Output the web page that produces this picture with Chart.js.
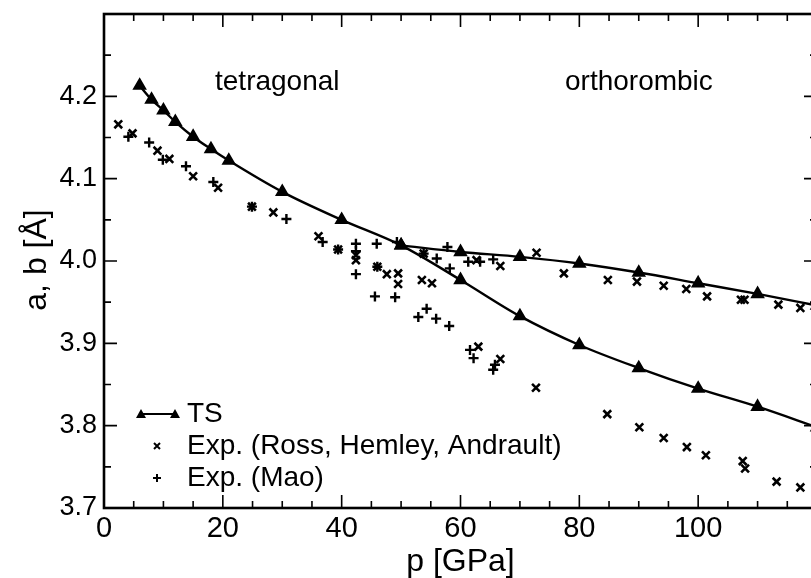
<!DOCTYPE html>
<html>
<head>
<meta charset="utf-8">
<script src="https://cdn.jsdelivr.net/npm/chart.js@4.4.1/dist/chart.umd.min.js"></script>
<style>
  html, body { margin: 0; padding: 0; background: #fff; overflow: hidden; }
  #wrap { width: 811px; height: 578px; overflow: hidden; }
  canvas { display: block; }
</style>
</head>
<body>
<div id="wrap"><canvas id="chart" width="830" height="578"></canvas></div>
<script>
// TS calculation: a lattice constant (tetragonal, then lower orthorhombic branch)
const tsP = [6, 8, 10, 12, 15, 18, 21, 30, 40, 50, 60, 70, 80, 90, 100, 110, 120];
const tsA = [4.213, 4.196, 4.183, 4.169, 4.151, 4.136, 4.122, 4.084, 4.050, 4.019,
  3.977, 3.933, 3.898, 3.870, 3.845, 3.823, 3.798];
// TS calculation: b branch of the orthorhombic phase
const tsBP = [50, 60, 70, 80, 90, 100, 110, 120];
const tsB = [4.019, 4.011, 4.005, 3.997, 3.986, 3.973, 3.960, 3.946];

// Exp. (Ross, Hemley, Andrault)
const rossP = [2.4, 4.8, 9.0, 11.0, 15.0, 19.2, 24.9, 28.5, 36.1, 39.4, 42.4, 42.4,
  46.0, 47.6, 49.5, 49.5, 53.5, 55.2, 53.8, 62.7, 66.7, 63.0, 66.7, 72.7, 72.8, 77.4,
  84.8, 89.7, 94.2, 98.0, 101.5, 107.2, 107.8, 113.5, 117.2,
  84.7, 90.1, 94.2, 98.1, 101.3, 107.5, 107.9, 113.2, 117.2];
const rossV = [4.166, 4.155, 4.134, 4.124, 4.103, 4.089, 4.066, 4.059, 4.030, 4.014, 4.007, 4.001,
  3.993, 3.984, 3.985, 3.972, 3.977, 3.973, 4.009, 4.001, 3.994, 3.896, 3.881, 3.846, 4.010, 3.985,
  3.977, 3.975, 3.970, 3.966, 3.957, 3.953, 3.953, 3.947, 3.943,
  3.814, 3.798, 3.785, 3.774, 3.764, 3.757, 3.748, 3.732, 3.725];

// Exp. (Mao)
const maoP = [4.1, 7.6, 9.9, 13.8, 18.4, 24.9, 30.7, 36.8, 39.4, 42.4, 42.4, 42.4,
  45.9, 46.0, 45.6, 49.0, 49.3, 53.8, 56.0, 57.8, 58.2, 61.3, 63.3, 65.5,
  52.9, 54.3, 55.9, 58.1, 61.6, 62.2, 65.5, 65.8];
const maoV = [4.151, 4.144, 4.123, 4.115, 4.096, 4.066, 4.051, 4.023, 4.014, 4.021, 4.012, 3.984,
  4.021, 3.993, 3.957, 3.956, 4.023, 4.009, 4.003, 4.017, 3.991, 3.999, 3.999, 4.002,
  3.932, 3.942, 3.930, 3.921, 3.892, 3.882, 3.868, 3.874];

const xMajor = [0, 20, 40, 60, 80, 100, 120];
const yMajor = [3.7, 3.8, 3.9, 4.0, 4.1, 4.2, 4.3];

const toPts = (xs, ys) => xs.map((x, i) => ({ x: x, y: ys[i] }));
const FONT = "'Liberation Sans', Arial, sans-serif";

// frame, inward ticks, labels and legend
const decorPlugin = {
  id: "decor",
  afterDraw(chart) {
    const ctx = chart.ctx;
    const a = chart.chartArea;
    const xs = chart.scales.x;
    const ys = chart.scales.y;
    ctx.save();
    ctx.strokeStyle = "#000";
    ctx.lineWidth = 1.6;
    for (let p = 0; p <= 120; p += 5) {
      const px = xs.getPixelForValue(p);
      const len = p % 20 === 0 ? 13 : 7;
      ctx.beginPath();
      ctx.moveTo(px, a.bottom); ctx.lineTo(px, a.bottom - len);
      ctx.moveTo(px, a.top); ctx.lineTo(px, a.top + len);
      ctx.stroke();
    }
    for (let i = 0; i <= 12; i++) {
      const v = 3.7 + i * 0.05;
      const py = ys.getPixelForValue(v);
      const len = i % 2 === 0 ? 13 : 7;
      ctx.beginPath();
      ctx.moveTo(a.left, py); ctx.lineTo(a.left + len, py);
      ctx.moveTo(a.right, py); ctx.lineTo(a.right - len, py);
      ctx.stroke();
    }
    ctx.lineWidth = 2.6;
    ctx.strokeRect(a.left, a.top, a.right - a.left, a.bottom - a.top);

    ctx.fillStyle = "#000";
    ctx.font = "28px " + FONT;
    ctx.textAlign = "left";
    ctx.textBaseline = "alphabetic";
    ctx.fillText("tetragonal", 215, 90);
    ctx.fillText("orthorombic", 565, 90);

    // axis titles
    ctx.font = "32px " + FONT;
    ctx.textAlign = "center";
    ctx.fillText("p [GPa]", (a.left + a.right) / 2, 571);
    ctx.save();
    ctx.translate(46, 260);
    ctx.rotate(-Math.PI / 2);
    ctx.fillText("a, b [Å]", 0, 0);
    ctx.restore();

    // legend
    ctx.font = "28px " + FONT;
    ctx.textAlign = "left";
    ctx.textBaseline = "middle";
    ctx.fillText("TS", 187, 414);
    ctx.fillText("Exp. (Ross, Hemley, Andrault)", 187, 446);
    ctx.fillText("Exp. (Mao)", 187, 478);
    ctx.lineWidth = 2.2;
    ctx.beginPath();
    ctx.moveTo(140, 414); ctx.lineTo(177, 414);
    ctx.stroke();
    [141, 175].forEach((cx) => {
      ctx.beginPath();
      ctx.moveTo(cx - 5, 418); ctx.lineTo(cx + 5, 418); ctx.lineTo(cx, 409);
      ctx.closePath();
      ctx.fill();
    });
    ctx.lineWidth = 2;
    ctx.beginPath();
    ctx.moveTo(154, 443); ctx.lineTo(160, 449);
    ctx.moveTo(160, 443); ctx.lineTo(154, 449);
    ctx.moveTo(157, 474); ctx.lineTo(157, 482);
    ctx.moveTo(153, 478); ctx.lineTo(161, 478);
    ctx.stroke();
    ctx.restore();
  },
};

const noPad = (s) => {
  s.paddingTop = 0;
  s.paddingBottom = 0;
  s.paddingLeft = 0;
  s.paddingRight = 0;
};

new Chart(document.getElementById("chart"), {
  type: "scatter",
  data: {
    datasets: [
      {
        label: "TS",
        data: toPts(tsP, tsA),
        showLine: true,
        borderColor: "#000",
        backgroundColor: "#000",
        borderWidth: 2.4,
        pointStyle: "triangle",
        pointRadius: 6,
        cubicInterpolationMode: "monotone",
      },
      {
        label: "TS b",
        data: toPts(tsBP, tsB),
        showLine: true,
        borderColor: "#000",
        backgroundColor: "#000",
        borderWidth: 2.4,
        pointStyle: "triangle",
        pointRadius: 6,
        cubicInterpolationMode: "monotone",
      },
      {
        label: "Exp. (Ross, Hemley, Andrault)",
        data: toPts(rossP, rossV),
        borderColor: "#000",
        borderWidth: 2.6,
        pointStyle: "crossRot",
        pointRadius: 5.5,
      },
      {
        label: "Exp. (Mao)",
        data: toPts(maoP, maoV),
        borderColor: "#000",
        borderWidth: 2.4,
        pointStyle: "cross",
        pointRadius: 5,
      },
    ],
  },
  options: {
    responsive: false,
    animation: false,
    layout: { padding: { top: 14, right: 13, left: 0, bottom: 0 } },
    plugins: {
      legend: { display: false },
      tooltip: { enabled: false },
    },
    scales: {
      x: {
        type: "linear",
        min: 0,
        max: 120,
        afterFit: (s) => { s.height = 70; noPad(s); },
        afterBuildTicks: (s) => { s.ticks = xMajor.map((v) => ({ value: v })); },
        grid: { display: false, drawTicks: false },
        border: { display: false },
        ticks: {
          color: "#000",
          padding: 4,
          font: { family: FONT, size: 29 },
          maxRotation: 0,
          callback: (v) => (v === 120 ? "" : String(v)),
        },
      },
      y: {
        type: "linear",
        min: 3.7,
        max: 4.3,
        afterFit: (s) => { s.width = 104; noPad(s); },
        afterBuildTicks: (s) => { s.ticks = yMajor.map((v) => ({ value: v })); },
        grid: { display: false, drawTicks: false },
        border: { display: false },
        ticks: {
          color: "#000",
          padding: 7,
          font: { family: FONT, size: 27 },
          callback: (v) => (v > 4.25 ? "" : Number(v).toFixed(1)),
        },
      },
    },
  },
  plugins: [decorPlugin],
});
</script>
</body>
</html>
